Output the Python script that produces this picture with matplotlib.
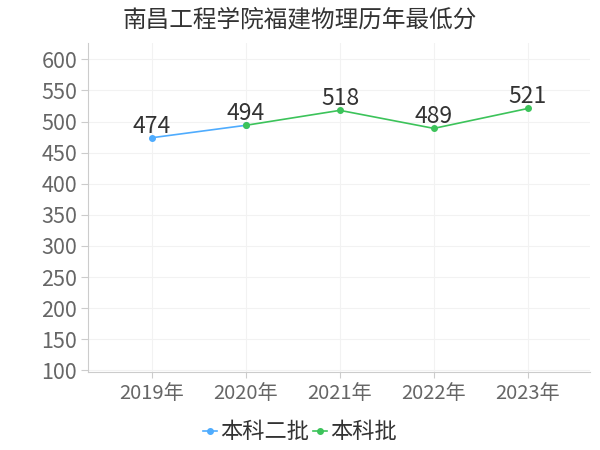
import matplotlib
matplotlib.use("Agg")
import matplotlib.pyplot as plt

plt.rcParams["font.family"] = ["Noto Sans CJK SC", "DejaVu Sans"]

title = "南昌工程学院福建物理历年最低分"
years = ["2019年", "2020年", "2021年", "2022年", "2023年"]

# 本科二批: 2019-2020, 本科批: 2020-2023
s1_name = "本科二批"
s1_idx = [0, 1]
s1_vals = [474, 494]
s2_name = "本科批"
s2_idx = [1, 2, 3, 4]
s2_vals = [494, 518, 489, 521]

blue = "#4facfe"
green = "#3cc35a"

fig = plt.figure(figsize=(6, 4.5), dpi=100)
ax = fig.add_axes([0.147, 0.173, 0.836, 0.731])

ax.plot(s1_idx, s1_vals, color=blue, marker="o", markersize=4, linewidth=1.2, label=s1_name, zorder=3)
ax.plot(s2_idx, s2_vals, color=green, marker="o", markersize=4, linewidth=1.2, label=s2_name, zorder=3)

# value labels (shared point 2020 labelled once)
labels = {}
for i, v in zip(s1_idx, s1_vals):
    labels[i] = v
for i, v in zip(s2_idx, s2_vals):
    labels[i] = v
for i, v in labels.items():
    ax.annotate(str(v), (i, v), textcoords="offset points", xytext=(0, 0),
                ha="center", va="bottom", fontsize=16.5, color="#333333")

ax.set_xlim(-0.68, 4.66)
ax.set_ylim(97, 626)
ax.set_yticks(range(100, 601, 50))
ax.set_xticks(range(len(years)))
ax.set_xticklabels(years)

ax.grid(True, color="#f2f2f2", linewidth=0.8)
ax.set_axisbelow(True)
for side in ["top", "right"]:
    ax.spines[side].set_visible(False)
ax.spines["left"].set_color("#cccccc")
ax.spines["bottom"].set_color("#cccccc")
ax.tick_params(axis="y", labelsize=15.5, colors="#cccccc", labelcolor="#666666", length=5, pad=3)
ax.tick_params(axis="x", labelsize=14.5, colors="#cccccc", labelcolor="#666666", length=4, pad=4)

fig.text(0.5, 0.955, title, ha="center", va="center", fontsize=17, color="#333333")

fig.legend(loc="center", bbox_to_anchor=(0.5, 0.04), ncol=2, frameon=False,
           fontsize=16, handlelength=0.6, handletextpad=0.15, columnspacing=0.2,
           labelcolor="#333333")

fig.savefig("out.png", dpi=100)
